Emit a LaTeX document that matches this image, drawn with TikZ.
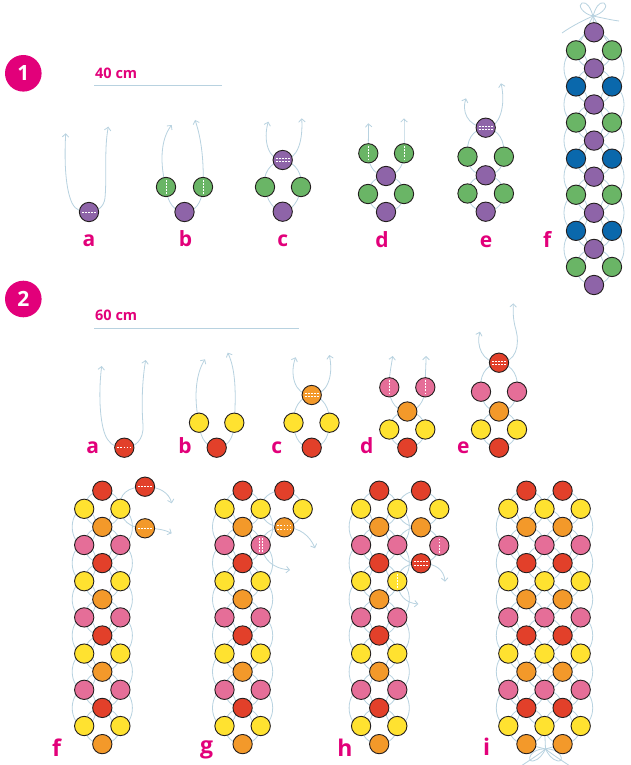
\documentclass[tikz,border=0pt]{standalone}
\usepackage{fontspec}
\setmainfont{Open Sans}
\usetikzlibrary{arrows.meta,backgrounds}
\definecolor{cpur}{RGB}{142,100,168}
\definecolor{cgrn}{RGB}{106,181,102}
\definecolor{cblu}{RGB}{10,104,172}
\definecolor{cred}{RGB}{226,64,42}
\definecolor{cyel}{RGB}{255,226,48}
\definecolor{cora}{RGB}{243,153,42}
\definecolor{cpnk}{RGB}{229,110,152}
\definecolor{cthr}{RGB}{184,210,224}
\definecolor{cmag}{RGB}{226,0,122}
\definecolor{cout}{RGB}{35,30,30}
\tikzset{
 bead/.style={circle,draw=cout,line width=0.9pt,fill=#1,minimum size=19.3pt,inner sep=0pt},
 thr/.style={draw=cthr,line width=0.8pt},
 arrboth/.style={thr,{Straight Barb[length=3.2pt,width=6.5pt]}-{Straight Barb[length=3.2pt,width=6.5pt]}},
 arrend/.style={thr,-{Straight Barb[length=3.2pt,width=6.5pt]}},
 bdash/.style={draw=white,line width=0.6pt,dash pattern=on 1.8pt off 1.3pt},
 lbl/.style={text=cmag,font=\bfseries\fontsize{21}{21}\selectfont,anchor=base,inner sep=0pt},
 lblbig/.style={lbl,font=\bfseries\fontsize{23}{23}\selectfont},
 badge/.style={circle,fill=cmag,minimum size=36.6pt,inner sep=0pt,text=white,font=\bfseries\fontsize{21}{21}\selectfont},
 cmtext/.style={text=cmag,font=\bfseries\fontsize{14.5}{14.5}\selectfont,anchor=base west,inner sep=0pt},
 ruler/.style={draw=cthr,line width=0.8pt}
}
\newcommand{\bhd}[1]{\draw[bdash] ([xshift=-7pt]#1.center) -- ([xshift=7pt]#1.center);}
\newcommand{\bhdd}[1]{\draw[bdash] ([xshift=-7pt,yshift=1.7pt]#1.center) -- ([xshift=7pt,yshift=1.7pt]#1.center);\draw[bdash] ([xshift=-7pt,yshift=-1.7pt]#1.center) -- ([xshift=7pt,yshift=-1.7pt]#1.center);}
\newcommand{\bvd}[1]{\draw[bdash] ([yshift=-7pt]#1.center) -- ([yshift=7pt]#1.center);}
\newcommand{\bvdd}[1]{\draw[bdash] ([xshift=-1.7pt,yshift=-7pt]#1.center) -- ([xshift=-1.7pt,yshift=7pt]#1.center);\draw[bdash] ([xshift=1.7pt,yshift=-7pt]#1.center) -- ([xshift=1.7pt,yshift=7pt]#1.center);}
\begin{document}
\begin{tikzpicture}[x=1pt,y=-1pt]
\useasboundingbox (0,0) rectangle (631,765);
% ---------- section 1 ----------
\node[badge] (bd1) at (23.3,73.3) {1};
\node[cmtext] (cm1) at (95,78.5) {40 cm};
\coordinate (r1a) at (94.3,85); \coordinate (r1b) at (221.7,85);
\draw[ruler] (r1a) -- (r1b);
% a
\node[bead=cpur] (a1p) at (89,212) {};
\coordinate (a1tl) at (65.7,133.3); \coordinate (a1tr) at (108.3,126.7);
\node[lbl] (a1lab) at (89,246.7) {a};
% b
\node[bead=cgrn] (b1l) at (166,187) {};
\node[bead=cgrn] (b1r) at (203,187) {};
\node[bead=cpur] (b1p) at (184.5,212) {};
\coordinate (b1tl) at (171.7,125); \coordinate (b1tr) at (195,120);
\node[lbl] (b1lab) at (185.5,246.7) {b};
% c
\node[bead=cpur] (c1t) at (282.7,160) {};
\node[bead=cgrn] (c1l) at (265,187) {};
\node[bead=cgrn] (c1r) at (301,187) {};
\node[bead=cpur] (c1b) at (282.7,211.7) {};
\coordinate (c1tl) at (268.3,121.7); \coordinate (c1tr) at (301.7,118.3);
\node[lbl] (c1lab) at (282.7,246.7) {c};
% d
\node[bead=cgrn] (d1a) at (368.3,153.3) {};
\node[bead=cgrn] (d1b) at (404,153.3) {};
\node[bead=cpur] (d1p) at (386,176) {};
\node[bead=cgrn] (d1c) at (368,194) {};
\node[bead=cgrn] (d1d) at (404,194) {};
\node[bead=cpur] (d1e) at (386,212) {};
\coordinate (d1tl) at (368.3,123.3); \coordinate (d1tr) at (404,118.3);
\node[lbl] (d1lab) at (382,247) {d};
% e
\node[bead=cpur] (e1t) at (485.7,127.7) {};
\node[bead=cgrn] (e1l1) at (467.5,156.7) {};
\node[bead=cgrn] (e1r1) at (503.9,156.7) {};
\node[bead=cpur] (e1p) at (485.7,175.3) {};
\node[bead=cgrn] (e1l2) at (467.5,193.5) {};
\node[bead=cgrn] (e1r2) at (503.9,193.5) {};
\node[bead=cpur] (e1b) at (485.7,211.7) {};
\coordinate (e1tl) at (466,98.3); \coordinate (e1tr) at (501,83.3);
\node[lbl] (e1lab) at (486,247) {e};
% f
\foreach \k in {0,...,14} {
  \pgfmathtruncatemacro\m{mod(\k,4)}
  \pgfmathsetmacro\yy{32.3+18.05*\k}
  \ifcase\m\relax
    \node[bead=cpur] (sf-c-\k) at (594,\yy) {};
  \or
    \node[bead=cgrn] (sf-l-\k) at (576,\yy) {};
    \node[bead=cgrn] (sf-r-\k) at (612,\yy) {};
  \or
    \node[bead=cpur] (sf-c-\k) at (594,\yy) {};
  \or
    \node[bead=cblu] (sf-l-\k) at (576,\yy) {};
    \node[bead=cblu] (sf-r-\k) at (612,\yy) {};
  \fi
}
\coordinate (k1) at (593,16);
\coordinate (k1t1) at (562,33); \coordinate (k1t2) at (619,21);
\node[lbl] (f1lab) at (547.3,247.3) {f};
% dashes section 1
\bhd{a1p} \bvd{b1l} \bvd{b1r} \bhdd{c1t} \bvd{d1a} \bvd{d1b} \bhdd{e1t}
% ---------- section 2 ----------
\node[badge] (bd2) at (23.3,299) {2};
\node[cmtext] (cm2) at (95,320.7) {60 cm};
\coordinate (r2a) at (94.3,328.3); \coordinate (r2b) at (299,328.3);
\draw[ruler] (r2a) -- (r2b);
% a
\node[bead=cred] (a2r) at (124.3,447.7) {};
\coordinate (a2tl) at (101.7,366); \coordinate (a2tr) at (145.7,360);
\node[lbl] (a2lab) at (92.7,453) {a};
% b
\node[bead=cyel] (b2l) at (199,422.7) {};
\node[bead=cyel] (b2r) at (234.3,422.7) {};
\node[bead=cred] (b2p) at (216.7,447.7) {};
\coordinate (b2tl) at (205,359.3); \coordinate (b2tr) at (227.7,352.7);
\node[lbl] (b2lab) at (185,453) {b};
% c
\node[bead=cora] (c2t) at (311.7,395) {};
\node[bead=cyel] (c2l) at (293.5,422.7) {};
\node[bead=cyel] (c2r) at (329.5,422.7) {};
\node[bead=cred] (c2b) at (311.7,447.7) {};
\coordinate (c2tl) at (295.7,357.3); \coordinate (c2tr) at (329.3,355);
\node[lbl] (c2lab) at (276.7,453) {c};
% d
\node[bead=cpnk] (d2a) at (389.3,387.3) {};
\node[bead=cpnk] (d2b) at (425.3,387.3) {};
\node[bead=cora] (d2o) at (407.3,411.5) {};
\node[bead=cyel] (d2c) at (389.3,429.5) {};
\node[bead=cyel] (d2d) at (425.3,429.5) {};
\node[bead=cred] (d2r) at (407.3,447.7) {};
\coordinate (d2tl) at (392.7,356); \coordinate (d2tr) at (426,356);
\node[lbl] (d2lab) at (366.7,453) {d};
% e
\node[bead=cred] (e2t) at (499,362.7) {};
\node[bead=cpnk] (e2l1) at (481,391.7) {};
\node[bead=cpnk] (e2r1) at (517,391.7) {};
\node[bead=cora] (e2o) at (499,411.5) {};
\node[bead=cyel] (e2l2) at (481,429.5) {};
\node[bead=cyel] (e2r2) at (517,429.5) {};
\node[bead=cred] (e2b) at (499,447.7) {};
\coordinate (e2tl) at (480,331.7); \coordinate (e2tr) at (513.3,303.3);
\node[lbl] (e2lab) at (463.3,453) {e};
% big lattices f g h i
\foreach \p/\xo/\nc in {f/84.2/2, g/224.5/2, h/361.1/2, i/508.3/4} {
  \foreach \j in {0,...,\nc} {
    \foreach \k in {0,...,14} {
      \pgfmathtruncatemacro\s{mod(\j+\k,2)}
      \ifnum\s=1
        \pgfmathtruncatemacro\m{mod(\k,4)}
        \pgfmathsetmacro\xx{\xo+18.1*\j}
        \pgfmathsetmacro\yy{490.7+18.1*\k}
        \ifcase\m\relax \def\cc{cred}\or\def\cc{cyel}\or\def\cc{cora}\or\def\cc{cpnk}\fi
        \node[bead=\cc] (\p-\j-\k) at (\xx,\yy) {};
      \fi
    }
  }
}
% extras f
\node[bead=cred] (fx1) at (145,486.7) {};
\node[bead=cora] (fx2) at (145,528.3) {};
\coordinate (ft1) at (171.7,503.3); \coordinate (ft2) at (171.7,533.3);
% extras g
\node[bead=cred] (gx1) at (284.3,490.7) {};
\node[bead=cyel] (gx2) at (302.7,509) {};
\node[bead=cora] (gx3) at (284.3,527.3) {};
\coordinate (gt1) at (315,548.3); \coordinate (gt2) at (290,570);
% extras h
\node[bead=cred] (hx1) at (421,490.7) {};
\node[bead=cyel] (hx2) at (439.3,509) {};
\node[bead=cora] (hx3) at (421,527.3) {};
\node[bead=cpnk] (hx4) at (439.3,545.7) {};
\node[bead=cred] (hx5) at (421,563.3) {};
\coordinate (ht1) at (445,581.7); \coordinate (ht2) at (418.3,604);
\coordinate (k2) at (545.5,749);
\coordinate (k2t1) at (521,766); \coordinate (k2t2) at (570,766);
% labels
\node[lblbig] (f2lab) at (56.7,756) {f};
\node[lblbig] (g2lab) at (206.7,753) {g};
\node[lblbig] (h2lab) at (345,756) {h};
\node[lblbig] (i2lab) at (486.7,755) {i};
% dashes section 2
\bhd{a2r} \bhdd{c2t} \bvd{d2a} \bvd{d2b} \bhdd{e2t}
\bhd{fx1} \bhd{fx2} \bhdd{gx3} \bvdd{g-2-3} \bvd{hx4} \bhdd{hx5} \bvd{h-2-5}
% ---------- threads (background) ----------
\begin{scope}[on background layer]
\fill[white] (0,0) rectangle (631,765);
% 1a
\draw[arrboth] (a1tl) .. controls (64,165) and (66,190) .. (72,203) .. controls (76,211) and (82,212) .. (a1p.center) .. controls (97,212) and (104,207) .. (105,198) .. controls (107,175) and (104,150) .. (a1tr);
% 1b
\draw[arrboth] (b1tl) .. controls (160,140) and (160,165) .. (b1l.center) .. controls (167,203) and (175,212) .. (b1p.center) .. controls (195,212) and (202,203) .. (b1r.center) .. controls (204,165) and (202,140) .. (b1tr);
% 1c
\draw[arrboth] (c1tl) .. controls (263,140) and (268,160) .. (c1t.center) .. controls (298,160) and (303,140) .. (c1tr);
\draw[thr] (c1t.center) .. controls (270,162) and (262,175) .. (c1l.center) .. controls (266,200) and (275,211.7) .. (c1b.center) .. controls (291,211.7) and (300,200) .. (c1r.center) .. controls (303,175) and (296,162) .. (c1t.center);
% 1d
\draw[arrend] (d1a.center) .. controls (368,140) and (369,132) .. (d1tl);
\draw[arrend] (d1b.center) .. controls (404,140) and (404,130) .. (d1tr);
\draw[thr] (d1a.center) .. controls (368,168) and (377,176) .. (d1p.center) .. controls (395,176) and (404,168) .. (d1b.center);
\draw[thr] (386,194) circle[radius=18pt];
% 1e
\draw[arrboth] (e1tl) .. controls (462,110) and (466,126) .. (e1t.center) .. controls (500,128) and (506,105) .. (e1tr);
\draw[thr] (e1t.center) .. controls (472,130) and (466,140) .. (e1l1.center) .. controls (468,170) and (477,175.3) .. (e1p.center) .. controls (494,175.3) and (503,170) .. (e1r1.center) .. controls (505,140) and (499,130) .. (e1t.center);
\draw[thr] (485.7,193.5) circle[radius=18.2pt];
% 1f lattice
\foreach \k in {1,3,...,13} {\draw[thr] (594,{32.3+18.05*\k}) circle[radius=18pt];}
\foreach \k in {2,4,...,12} {\draw[thr] (576,{32.3+18.05*\k}) ellipse[x radius=12pt,y radius=18pt]; \draw[thr] (612,{32.3+18.05*\k}) ellipse[x radius=12pt,y radius=18pt];}
\draw[thr] (k1) .. controls (583,14) and (577,5) .. (582,3) .. controls (587,1) and (591,9) .. (k1);
\draw[thr] (k1) .. controls (603,14) and (609,5) .. (604,3) .. controls (599,1) and (595,9) .. (k1);
\draw[thr] (k1) .. controls (582,21) and (572,26) .. (k1t1);
\draw[thr] (k1) .. controls (603,18) and (611,20) .. (k1t2);
\draw[thr] (k1) -- (sf-c-0.center);
\draw[thr] (sf-l-1.center) -- (k1) -- (sf-r-1.center);
% 2a
\draw[arrboth] (a2tl) .. controls (98,395) and (100,430) .. (108,440) .. controls (112,446) and (118,447.7) .. (a2r.center) .. controls (135,447.7) and (144,440) .. (143,425) .. controls (141,400) and (143,375) .. (a2tr);
% 2b
\draw[arrboth] (b2tl) .. controls (195,375) and (194,400) .. (b2l.center) .. controls (200,440) and (208,447.7) .. (b2p.center) .. controls (226,447.7) and (234,440) .. (b2r.center) .. controls (236,395) and (236,370) .. (b2tr);
% 2c
\draw[arrboth] (c2tl) .. controls (290,372) and (293,395) .. (c2t.center) .. controls (326,395) and (334,378) .. (c2tr);
\draw[thr] (c2t.center) .. controls (300,397) and (293,408) .. (c2l.center) .. controls (294,440) and (302,447.7) .. (c2b.center) .. controls (321,447.7) and (329,440) .. (c2r.center) .. controls (330,408) and (323,397) .. (c2t.center);
% 2d
\draw[arrend] (d2a.center) .. controls (389,375) and (391,368) .. (d2tl);
\draw[arrend] (d2b.center) .. controls (425,375) and (426,368) .. (d2tr);
\draw[thr] (d2a.center) .. controls (389,403) and (398,411.5) .. (d2o.center) .. controls (416,411.5) and (425,403) .. (d2b.center);
\draw[thr] (407.3,429.5) circle[radius=18pt];
% 2e
\draw[arrboth] (e2tl) .. controls (476,345) and (482,362.7) .. (e2t.center) .. controls (516,362.7) and (520,345) .. (516,330) .. controls (513,320) and (513,312) .. (e2tr);
\draw[thr] (e2t.center) .. controls (484,365) and (479,378) .. (e2l1.center) .. controls (482,405) and (490,411.5) .. (e2o.center) .. controls (508,411.5) and (516,405) .. (e2r1.center) .. controls (519,378) and (514,365) .. (e2t.center);
\draw[thr] (499,429.5) circle[radius=18pt];
% big lattices holes
\foreach \p/\xo/\nc in {f/84.2/2, g/224.5/2, h/361.1/2, i/508.3/4} {
  \foreach \j in {0,...,\nc} {
    \foreach \k in {1,...,13} {
      \pgfmathtruncatemacro\s{mod(\j+\k,2)}
      \ifnum\s=0
        \pgfmathtruncatemacro\edge{(\j==0)||(\j==\nc)}
        \ifnum\edge=1
          \draw[thr] ({\xo+18.1*\j},{490.7+18.1*\k}) ellipse[x radius=12pt,y radius=18.1pt];
        \else
          \draw[thr] ({\xo+18.1*\j},{490.7+18.1*\k}) circle[radius=18.1pt];
        \fi
      \fi
    }
  }
}
% f extras threads
\draw[arrend] (f-2-1.center) .. controls (118,494) and (128,486.7) .. (fx1.center) .. controls (160,486.7) and (169,493) .. (ft1);
\draw[arrend] (f-2-1.center) .. controls (121,520) and (130,528.3) .. (fx2.center) .. controls (158,528.3) and (165,530) .. (ft2);
% g extras threads
\draw[thr] (281.7,509) ellipse[x radius=21pt,y radius=18.3pt];
\draw[arrend] (gx3.center) .. controls (300,527.3) and (310,536) .. (gt1);
\draw[arrend] (gx3.center) .. controls (270,527.3) and (262,535) .. (g-2-3.center) .. controls (264,560) and (272,568) .. (gt2);
% h extras threads
\draw[thr] (418.3,509) ellipse[x radius=21pt,y radius=18.3pt];
\draw[thr] (418.3,545.5) ellipse[x radius=21pt,y radius=18.3pt];
\draw[arrend] (hx5.center) .. controls (436,563.3) and (444,570) .. (ht1);
\draw[arrend] (hx5.center) .. controls (408,563.3) and (398,568) .. (h-2-5.center) .. controls (398,596) and (406,603) .. (ht2);
% i bow
\draw[thr] (k2) .. controls (530,748) and (526,762) .. (533,761) .. controls (539,760) and (543,754) .. (k2);
\draw[thr] (k2) .. controls (561,748) and (565,762) .. (558,761) .. controls (552,760) and (548,754) .. (k2);
\draw[thr] (k2) .. controls (538,755) and (530,760) .. (k2t1);
\draw[thr] (k2) .. controls (553,755) and (561,760) .. (k2t2);
\draw[thr] (i-1-14.center) -- (k2) -- (i-3-14.center);
\draw[thr] (i-2-13.center) -- (k2);
\end{scope}
\end{tikzpicture}
\end{document}
